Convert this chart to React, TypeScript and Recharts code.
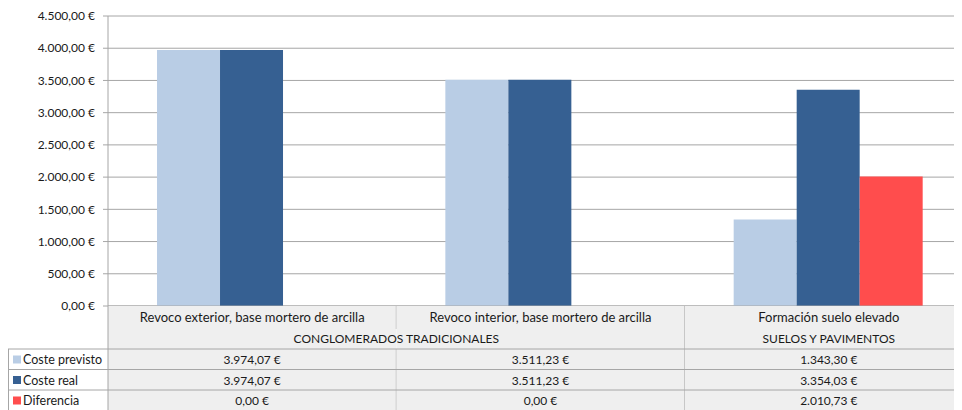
import React from "react";
import { BarChart, Bar, XAxis, YAxis, CartesianGrid } from "recharts";

const categories = [
  "Revoco exterior, base mortero de arcilla",
  "Revoco interior, base mortero de arcilla",
  "Formación suelo elevado",
];
const groups = [
  "CONGLOMERADOS TRADICIONALES",
  "CONGLOMERADOS TRADICIONALES",
  "SUELOS Y PAVIMENTOS",
];
const seriesNames = ["Coste previsto", "Coste real", "Diferencia"];
const costePrevisto = [3974.07, 3511.23, 1343.3];
const costeReal = [3974.07, 3511.23, 3354.03];
const diferencia = [0, 0, 2010.73];
const yTicks = [0, 500, 1000, 1500, 2000, 2500, 3000, 3500, 4000, 4500];

const COLORS = ["#b9cde5", "#366092", "#ff4d4d"];
const seriesValues = [costePrevisto, costeReal, diferencia];
const seriesKeys = ["previsto", "real", "diferencia"];

const data = categories.map((c, i) => ({
  name: c,
  group: groups[i],
  previsto: costePrevisto[i],
  real: costeReal[i],
  diferencia: diferencia[i],
}));

const fmt = (v: number) => {
  const [int, dec] = v.toFixed(2).split(".");
  return int.replace(/\B(?=(\d{3})+(?!\d))/g, ".") + "," + dec + " €";
};

const VIEW_W = 954;
const CHART_W = 966;
const CHART_H = 402;
const PLOT_L = 100;
const PLOT_R = 965;
const PLOT_B = 298;
const GROUP_TOP = 319;
const SERIES_TOP = 341;
const ROW_H = 20.5;
const LINE = "#a6a6a6";
const CELL = "#efefef";
const TEXT = "#1a1a1a";

function TableTick(props: any) {
  const { x, payload } = props;
  const i: number = payload.index ?? props.index ?? 0;
  const n = categories.length;
  const bw = (PLOT_R - PLOT_L) / n;
  const x0 = x - bw / 2;
  const x1 = x0 + bw;
  const bottom = SERIES_TOP + ROW_H * seriesNames.length;
  const isGroupEnd = i === n - 1 || groups[i + 1] !== groups[i];
  let span = 0;
  if (isGroupEnd) {
    for (let k = i; k >= 0 && groups[k] === groups[i]; k--) span++;
  }
  return (
    <g>
      <rect x={x0} y={PLOT_B} width={bw} height={bottom - PLOT_B} fill={CELL} />
      <text x={x} y={PLOT_B + 11} textAnchor="middle" dominantBaseline="central" fontSize={13} fill={TEXT}>
        {payload.value}
      </text>
      {isGroupEnd && (
        <text x={x1 - (span * bw) / 2} y={GROUP_TOP + 11} textAnchor="middle" dominantBaseline="central" fontSize={12} fill={TEXT}>
          {groups[i]}
        </text>
      )}
      {seriesValues.map((vals, r) => (
        <text key={r} x={x} y={SERIES_TOP + ROW_H * r + ROW_H / 2 + 0.5} textAnchor="middle" dominantBaseline="central" fontSize={12} fill={TEXT}>
          {fmt(vals[i])}
        </text>
      ))}
      {isGroupEnd ? (
        <line x1={x1} y1={PLOT_B} x2={x1} y2={bottom} stroke={LINE} />
      ) : (
        <>
          <line x1={x1} y1={PLOT_B} x2={x1} y2={GROUP_TOP + 2} stroke={LINE} />
          <line x1={x1} y1={SERIES_TOP} x2={x1} y2={bottom} stroke={LINE} />
        </>
      )}
      {i === n - 1 && (
        <g>
          <rect x={0.5} y={SERIES_TOP} width={PLOT_L - 0.5} height={ROW_H * seriesNames.length} fill="#ffffff" />
          <line x1={0.5} y1={SERIES_TOP} x2={0.5} y2={bottom} stroke={LINE} />
          <line x1={PLOT_L} y1={PLOT_B} x2={PLOT_L} y2={bottom} stroke={LINE} />
          {seriesNames.map((s, r) => (
            <g key={s}>
              <line x1={0} y1={SERIES_TOP + ROW_H * r} x2={PLOT_R} y2={SERIES_TOP + ROW_H * r} stroke={LINE} />
              <rect x={5} y={SERIES_TOP + ROW_H * r + 6.5} width={8} height={8} fill={COLORS[r]} />
              <text x={15} y={SERIES_TOP + ROW_H * r + ROW_H / 2 + 0.5} dominantBaseline="central" fontSize={12.5} fill={TEXT}>
                {s}
              </text>
            </g>
          ))}
          <line x1={0} y1={bottom} x2={PLOT_R} y2={bottom} stroke={LINE} />
        </g>
      )}
    </g>
  );
}

export default function App() {
  return (
    <div style={{ width: VIEW_W, height: CHART_H, overflow: "hidden", fontFamily: "Lato, 'Open Sans', sans-serif" }}>
      <BarChart
        width={CHART_W}
        height={CHART_H}
        data={data}
        margin={{ top: 8, right: CHART_W - PLOT_R, bottom: 0, left: 0 }}
        barCategoryGap="17%"
        barGap={0}
      >
        <CartesianGrid vertical={false} stroke="#a6a6a6" />
        <XAxis
          dataKey="name"
          height={CHART_H - PLOT_B}
          axisLine={{ stroke: LINE }}
          tickLine={false}
          interval={0}
          tick={<TableTick />}
        />
        <YAxis
          width={PLOT_L}
          domain={[0, 4500]}
          ticks={yTicks}
          interval={0}
          tickFormatter={fmt}
          axisLine={{ stroke: LINE }}
          tickLine={{ stroke: LINE }}
          tickSize={5}
          tickMargin={8}
          tick={{ fontSize: 12, fill: TEXT }}
        />
        {seriesKeys.map((k, r) => (
          <Bar key={k} dataKey={k} name={seriesNames[r]} fill={COLORS[r]} isAnimationActive={false} />
        ))}
      </BarChart>
    </div>
  );
}
